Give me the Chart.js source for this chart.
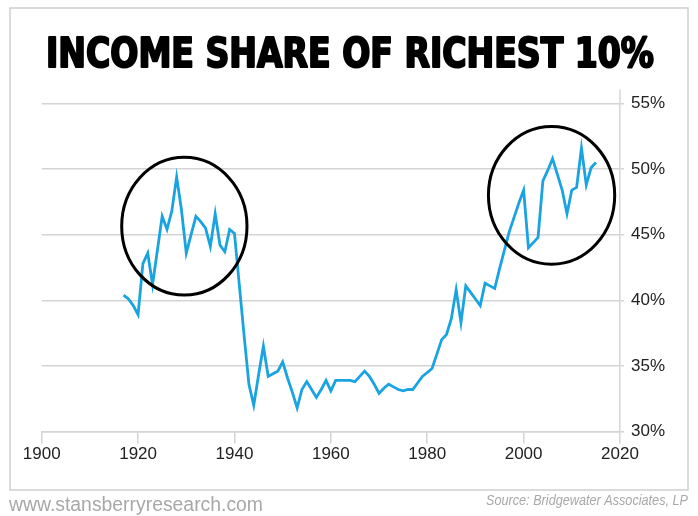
<!DOCTYPE html>
<html>
<head>
<meta charset="utf-8">
<script src="https://cdn.jsdelivr.net/npm/chart.js@4.4.1/dist/chart.umd.min.js"></script>
<style>
  html, body { margin: 0; padding: 0; background: #fff; }
  #wrap { width: 698px; height: 516px; }
</style>
</head>
<body>
<div id="wrap"><canvas id="incomeChart" width="698" height="516"></canvas></div>
<script>
// Top 10% income share
const years = [
  1917, 1918, 1919, 1920, 1921, 1922, 1923, 1924, 1925, 1926,
  1927, 1928, 1929, 1930, 1931, 1932, 1933, 1934, 1935, 1936,
  1937, 1938, 1939, 1940, 1941, 1942, 1943, 1944, 1945, 1946,
  1947, 1948, 1949, 1950, 1951, 1952, 1953, 1954, 1955, 1956,
  1957, 1958, 1959, 1960, 1961, 1962, 1963, 1964, 1965, 1966,
  1967, 1968, 1969, 1970, 1971, 1972, 1973, 1974, 1975, 1976,
  1977, 1978, 1979, 1980, 1981, 1982, 1983, 1984, 1985, 1986,
  1987, 1988, 1989, 1990, 1991, 1992, 1993, 1994, 1995, 1996,
  1997, 1998, 1999, 2000, 2001, 2002, 2003, 2004, 2005, 2006,
  2007, 2008, 2009, 2010, 2011, 2012, 2013, 2014, 2015
];
const shareTop10 = [
  40.4, 40.1, 39.6, 38.9, 42.8, 43.6, 41.2, 43.8, 46.4, 45.4,
  46.8, 49.4, 46.9, 43.6, 45.0, 46.4, 46.0, 45.5, 44.1, 46.6,
  44.2, 43.7, 45.4, 45.1, 41.2, 37.3, 33.6, 32.0, 34.3, 36.5,
  34.2, 34.4, 34.6, 35.3, 34.1, 33.0, 31.8, 33.2, 33.8, 33.2,
  32.6, 33.2, 33.9, 33.1, 33.9, 33.9, 33.9, 33.9, 33.8, 34.2,
  34.6, 34.2, 33.6, 32.9, 33.3, 33.6, 33.4, 33.2, 33.1, 33.2,
  33.2, 33.7, 34.2, 34.5, 34.8, 35.9, 37.0, 37.4, 38.6, 40.8,
  38.3, 41.1, 40.6, 40.1, 39.6, 41.3, 41.1, 40.9, 42.4, 43.8,
  45.2, 46.3, 47.4, 48.4, 44.0, 44.4, 44.8, 49.1, 49.9, 50.8,
  49.6, 48.4, 46.6, 48.4, 48.6, 51.6, 48.8, 50.1, 50.5
];
const xTicks = [1900, 1920, 1940, 1960, 1980, 2000, 2020];
const yTicks = [30, 35, 40, 45, 50, 55];

// highlight rings, in data units (centre year, centre %, half-width years, half-height %)
const ringCenters = [[1929.6, 45.65], [2005.8, 48.0]];
const ringRadii = [[13.0, 5.25], [13.1, 5.25]];

const titleText = 'INCOME SHARE OF RICHEST 10%';
const siteText = 'www.stansberryresearch.com';
const sourceText = 'Source: Bridgewater Associates, LP';

const points = years.map((y, i) => ({ x: y, y: shareTop10[i] }));

// draw text squeezed/stretched to a given width
function fitText(ctx, text, x, y, w, align, stroke) {
  const m = ctx.measureText(text).width;
  ctx.save();
  ctx.translate(x, y);
  ctx.scale(w / m, 1);
  ctx.textAlign = align;
  ctx.fillText(text, 0, 0);
  if (stroke) ctx.strokeText(text, 0, 0);
  ctx.restore();
}

const decor = {
  id: 'decor',
  beforeDraw(chart) {
    const ctx = chart.ctx;
    ctx.save();
    ctx.fillStyle = '#fff';
    ctx.fillRect(0, 0, chart.width, chart.height);
    ctx.strokeStyle = '#cfcfcf';
    ctx.lineWidth = 1.5;
    ctx.strokeRect(10, 8, 678, 482);
    // axis line runs a little above the top gridline
    const a = chart.chartArea;
    ctx.strokeStyle = '#d4d4d4';
    ctx.lineWidth = 1.5;
    ctx.beginPath();
    ctx.moveTo(a.right, a.top - 14);
    ctx.lineTo(a.right, a.top);
    ctx.stroke();
    ctx.restore();
  },
  afterDatasetsDraw(chart) {
    const ctx = chart.ctx;
    const xs = chart.scales.x, ys = chart.scales.y;
    ctx.save();
    ctx.strokeStyle = '#000';
    ctx.lineWidth = 3;
    ringCenters.forEach((c, i) => {
      const cx = xs.getPixelForValue(c[0]);
      const cy = ys.getPixelForValue(c[1]);
      const rx = Math.abs(xs.getPixelForValue(c[0] + ringRadii[i][0]) - cx);
      const ry = Math.abs(ys.getPixelForValue(c[1] + ringRadii[i][1]) - cy);
      ctx.beginPath();
      ctx.ellipse(cx, cy, rx, ry, 0, 0, Math.PI * 2);
      ctx.stroke();
    });
    ctx.restore();
  },
  afterDraw(chart) {
    const ctx = chart.ctx;
    ctx.save();
    ctx.textBaseline = 'alphabetic';
    ctx.fillStyle = '#000';
    ctx.strokeStyle = '#000';
    ctx.lineWidth = 2;
    ctx.lineJoin = 'round';
    ctx.font = 'bold 40px "DejaVu Sans Condensed", "DejaVu Sans", sans-serif';
    fitText(ctx, titleText, 350, 67, 608, 'center', true);

    ctx.fillStyle = '#a8a8a8';
    ctx.font = '20px "Liberation Sans Narrow", "Liberation Sans", sans-serif';
    fitText(ctx, siteText, 9, 511, 254, 'left');

    ctx.fillStyle = '#a8a8a8';
    ctx.font = 'italic 14px "Liberation Sans Narrow", "Liberation Sans", sans-serif';
    fitText(ctx, sourceText, 688, 505, 202, 'right');
    ctx.restore();
  }
};

const ctx = document.getElementById('incomeChart').getContext('2d');
new Chart(ctx, {
  type: 'line',
  data: {
    datasets: [{
      data: points,
      borderColor: '#19a3e1',
      borderWidth: 2.8,
      pointRadius: 0,
      tension: 0,
      fill: false
    }]
  },
  options: {
    responsive: false,
    animation: false,
    events: [],
    layout: { padding: { left: 41.7, top: 103.5, right: 0, bottom: 0 } },
    plugins: { legend: { display: false }, tooltip: { enabled: false } },
    scales: {
      x: {
        type: 'linear',
        min: xTicks[0],
        max: xTicks[xTicks.length - 1],
        afterBuildTicks: s => { s.ticks = xTicks.map(v => ({ value: v })); },
        afterFit: s => { s.height = 84.5; },
        grid: { drawOnChartArea: false, drawTicks: true, tickLength: 12, color: '#d4d4d4', lineWidth: 1.5 },
        border: { display: true, color: '#d4d4d4', width: 1.5 },
        ticks: {
          padding: 1,
          color: '#222',
          font: { family: '"Liberation Sans", Arial, sans-serif', size: 17 },
          maxRotation: 0,
          callback: v => String(v)
        }
      },
      y: {
        position: 'right',
        min: yTicks[0],
        max: yTicks[yTicks.length - 1],
        afterBuildTicks: s => { s.ticks = yTicks.map(v => ({ value: v })); },
        afterFit: s => { s.width = 78; },
        grid: { drawOnChartArea: true, drawTicks: true, tickLength: 4, color: '#d4d4d4', lineWidth: 1.5 },
        border: { display: true, color: '#d4d4d4', width: 1.5 },
        ticks: {
          padding: 7,
          color: '#222',
          font: { family: '"Liberation Sans", Arial, sans-serif', size: 17 },
          callback: v => v + '%'
        }
      }
    }
  },
  plugins: [decor]
});
</script>
</body>
</html>
